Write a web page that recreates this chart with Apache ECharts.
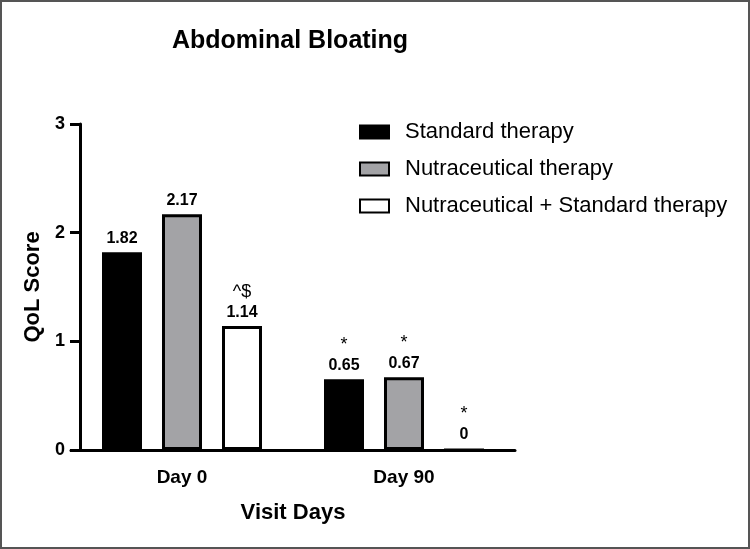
<!DOCTYPE html>
<html>

<head>
    <meta charset="utf-8">
    <title>Abdominal Bloating</title>
    <script src="https://cdn.jsdelivr.net/npm/echarts@6/dist/echarts.min.js"></script>
    <style>
        body { margin: 0; }
        #frame { width: 750px; height: 549px; box-sizing: border-box; border: 2px solid #555; background: #fff; }
    </style>
</head>

<body>
    <div id="frame"><div id="main" style="width: 746px;height:545px;"></div></div>
    <script type="text/javascript">
        var myChart = echarts.init(document.getElementById('main'));

        const days = ['Day 0', 'Day 90']
        const seriesNames = ['Standard therapy', 'Nutraceutical therapy', 'Nutraceutical + Standard therapy']
        const standard = [1.82, 0.65]
        const nutra = [2.17, 0.67]
        const combined = [1.14, 0]
        // significance marks above the value labels
        const standardMarks = ['', '*']
        const nutraMarks = ['', '*']
        const combinedMarks = ['^$', '*']
        const yTicks = [0, 1, 2, 3]

        const font = 'Liberation Sans'

        const makeLabel = (marks) => ({
            show: true,
            position: 'top',
            distance: 5,
            formatter: (p) => {
                const m = marks[p.dataIndex]
                return m ? '{m|' + m + '}\n{v|' + p.value + '}' : '{v|' + p.value + '}'
            },
            rich: {
                m: { fontSize: 18, fontFamily: font, color: '#000', lineHeight: 22, align: 'center' },
                v: { fontSize: 16, fontWeight: 'bold', fontFamily: font, color: '#000', lineHeight: 18, align: 'center' }
            }
        })

        const fills = ['#000000', '#a3a3a6', '#ffffff']
        const datas = [standard, nutra, combined]
        const marks = [standardMarks, nutraMarks, combinedMarks]

        var option = {
            animation: false,
            title: {
                text: 'Abdominal Bloating',
                left: 170,
                top: 27,
                padding: 0,
                textStyle: { fontSize: 25, fontWeight: 'bold', fontFamily: font, color: '#000' }
            },
            legend: {
                orient: 'vertical',
                left: 357,
                top: 119,
                icon: 'rect',
                itemWidth: 29,
                itemHeight: 13,
                itemGap: 15,
                padding: 0,
                data: seriesNames,
                textStyle: { fontSize: 22, fontFamily: font, color: '#000', padding: [0, 0, 0, 11] }
            },
            grid: {
                left: 69,
                top: 122,
                width: 444,
                height: 326
            },
            xAxis: {
                type: 'category',
                data: days,
                name: 'Visit Days',
                nameLocation: 'middle',
                nameGap: 52,
                nameTextStyle: { fontSize: 22, fontWeight: 'bold', fontFamily: font, color: '#000' },
                axisLine: { lineStyle: { color: '#000', width: 3 } },
                axisTick: { alignWithLabel: true, length: 10, lineStyle: { color: '#000', width: 3 } },
                axisLabel: { fontSize: 19, fontWeight: 'bold', fontFamily: font, color: '#000', margin: 18 }
            },
            yAxis: {
                type: 'value',
                min: yTicks[0],
                max: yTicks[yTicks.length - 1],
                interval: 1,
                offset: -9,
                name: 'QoL Score',
                nameLocation: 'middle',
                nameGap: 34,
                nameTextStyle: { fontSize: 22, fontWeight: 'bold', fontFamily: font, color: '#000' },
                axisLine: { show: true, lineStyle: { color: '#000', width: 3 } },
                axisTick: { show: true, length: 10, lineStyle: { color: '#000', width: 3 } },
                axisLabel: { fontSize: 18, fontWeight: 'bold', fontFamily: font, color: '#000', margin: 15 },
                splitLine: { show: false }
            },
            series: seriesNames.map((name, i) => ({
                name: name,
                type: 'bar',
                data: datas[i],
                barWidth: 40,
                barGap: '50%',
                itemStyle: {
                    color: fills[i],
                    borderColor: '#000',
                    borderWidth: 3
                },
                label: makeLabel(marks[i])
            }))
        };

        myChart.setOption(option);
    </script>
</body>

</html>
